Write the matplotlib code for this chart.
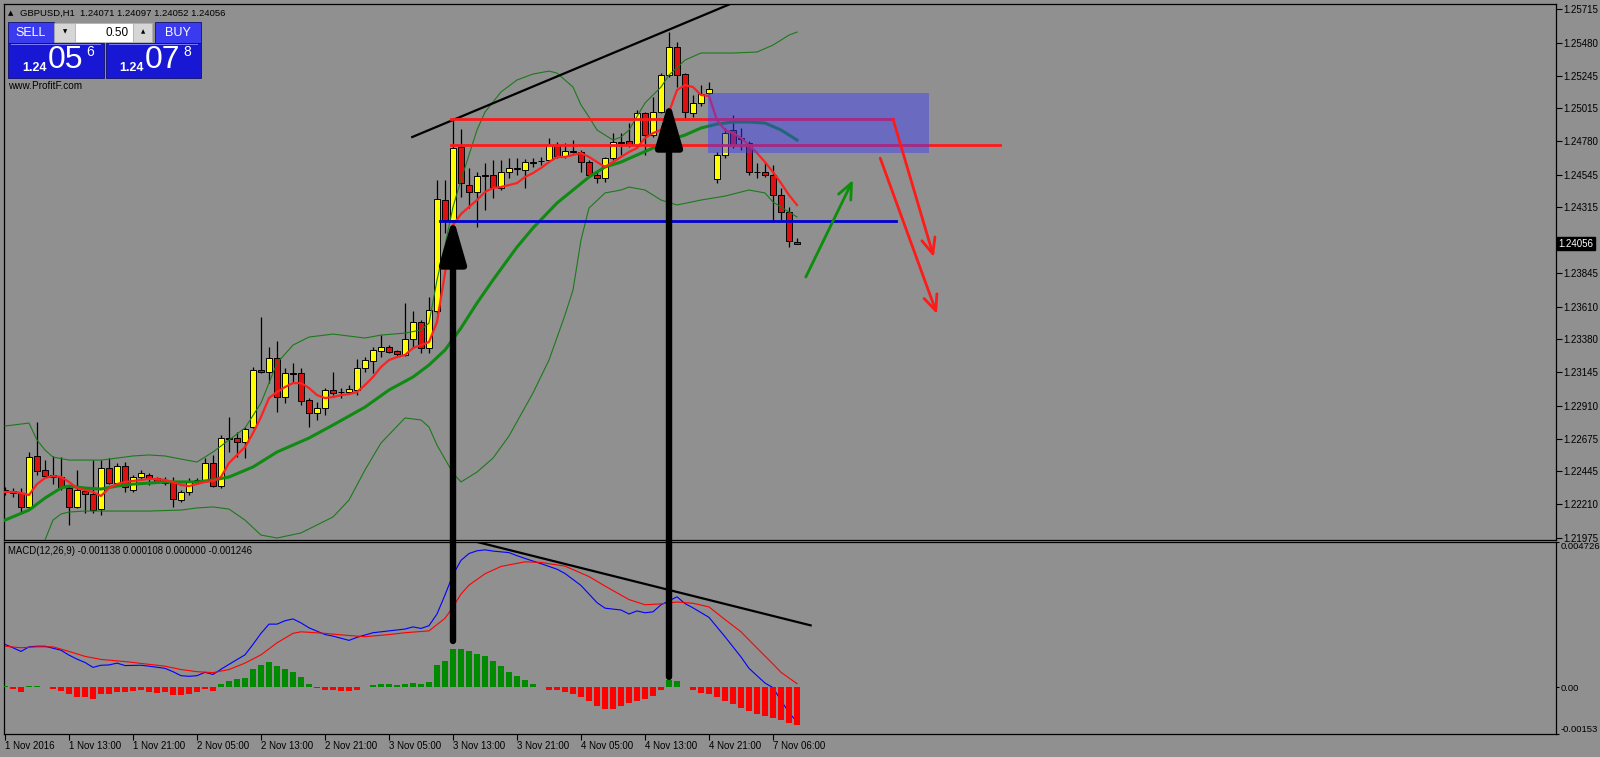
import numpy as np
import matplotlib.pyplot as plt
from matplotlib.patches import Rectangle, ConnectionPatch

plt.rcParams['font.family'] = ['Liberation Sans', 'DejaVu Sans']

W, H = 1600, 757
BG = '#909090'

# ---- свечи GBPUSD H1 (бар 0 = 1 Nov 05:00)
opens = [1.22312, 1.22305, 1.22291, 1.22192, 1.22553, 1.22454, 1.22418, 1.22404, 1.22326, 1.22192,
         1.22305, 1.22284, 1.22177, 1.22468, 1.22361, 1.22482, 1.22312, 1.22404, 1.22418, 1.22397,
         1.22361, 1.22369, 1.22241, 1.22298, 1.22383, 1.22383, 1.22503, 1.22340, 1.22683, 1.22680,
         1.22652, 1.22758, 1.23161, 1.23147, 1.23246, 1.22970, 1.23140, 1.23140, 1.22949, 1.22857,
         1.22892, 1.23020, 1.23006, 1.23006, 1.23020, 1.23176, 1.23225, 1.23296, 1.23324, 1.23296,
         1.23268, 1.23381, 1.23501, 1.23317, 1.23579, 1.24365, 1.24223, 1.24740, 1.24471, 1.24422,
         1.24542, 1.24542, 1.24450, 1.24563, 1.24592, 1.24577, 1.24634, 1.24641, 1.24648, 1.24754,
         1.24677, 1.24712, 1.24705, 1.24634, 1.24542, 1.24521, 1.24662, 1.24776, 1.24783, 1.24754,
         1.24981, 1.24825, 1.24988, 1.25250, 1.25448, 1.25257, 1.24981, 1.25052, 1.25123, 1.24514,
         1.24684, 1.24861, 1.24804, 1.24769, 1.24563, 1.24563, 1.24542, 1.24400, 1.24280, 1.24071]
highs = [1.22333, 1.22326, 1.22326, 1.22581, 1.22793, 1.22524, 1.22553, 1.22545, 1.22347, 1.22454,
         1.22326, 1.22524, 1.22524, 1.22538, 1.22503, 1.22510, 1.22418, 1.22454, 1.22432, 1.22404,
         1.22404, 1.22404, 1.22312, 1.22397, 1.22397, 1.22538, 1.22560, 1.22701, 1.22829, 1.22722,
         1.22758, 1.23183, 1.23537, 1.23324, 1.23367, 1.23176, 1.23211, 1.23176, 1.22963, 1.22935,
         1.23034, 1.23147, 1.23034, 1.23055, 1.23239, 1.23253, 1.23324, 1.23409, 1.23338, 1.23303,
         1.23636, 1.23579, 1.23515, 1.23678, 1.24507, 1.24507, 1.24946, 1.24868, 1.24592, 1.24563,
         1.24627, 1.24648, 1.24648, 1.24662, 1.24662, 1.24655, 1.24662, 1.24670, 1.24804, 1.24776,
         1.24769, 1.24790, 1.24719, 1.24648, 1.24563, 1.24670, 1.24839, 1.24839, 1.24910, 1.25002,
         1.24988, 1.25094, 1.25264, 1.25554, 1.25484, 1.25264, 1.25109, 1.25179, 1.25200, 1.24705,
         1.24875, 1.24967, 1.24875, 1.24783, 1.24627, 1.24634, 1.24613, 1.24450, 1.24316, 1.24097]
lows = [1.22277, 1.22263, 1.22156, 1.22185, 1.22418, 1.22397, 1.22354, 1.22312, 1.22064, 1.22185,
        1.22149, 1.22149, 1.22135, 1.22354, 1.22354, 1.22298, 1.22298, 1.22383, 1.22347, 1.22361,
        1.22347, 1.22192, 1.22227, 1.22277, 1.22369, 1.22369, 1.22333, 1.22326, 1.22581, 1.22545,
        1.22538, 1.22751, 1.23140, 1.23069, 1.22864, 1.22928, 1.23069, 1.22914, 1.22758, 1.22807,
        1.22843, 1.22984, 1.22963, 1.22999, 1.22984, 1.23147, 1.23140, 1.23253, 1.23282, 1.23261,
        1.23261, 1.23317, 1.23282, 1.23282, 1.23565, 1.24131, 1.24188, 1.24386, 1.24308, 1.24174,
        1.24294, 1.24379, 1.24436, 1.24521, 1.24542, 1.24450, 1.24599, 1.24613, 1.24634, 1.24662,
        1.24662, 1.24698, 1.24563, 1.24528, 1.24485, 1.24492, 1.24648, 1.24684, 1.24740, 1.24740,
        1.24684, 1.24811, 1.24981, 1.25236, 1.25165, 1.24931, 1.24953, 1.25031, 1.25116, 1.24485,
        1.24662, 1.24733, 1.24719, 1.24542, 1.24521, 1.24528, 1.24209, 1.24223, 1.24032, 1.24052]
closes = [1.22298, 1.22291, 1.22192, 1.22545, 1.22446, 1.22411, 1.22404, 1.22333, 1.22192, 1.22312,
          1.22284, 1.22170, 1.22468, 1.22361, 1.22482, 1.22333, 1.22404, 1.22432, 1.22397, 1.22369,
          1.22383, 1.22248, 1.22298, 1.22376, 1.22380, 1.22503, 1.22340, 1.22680, 1.22676, 1.22652,
          1.22744, 1.23161, 1.23147, 1.23246, 1.22970, 1.23140, 1.23133, 1.22942, 1.22857, 1.22892,
          1.23020, 1.22999, 1.23004, 1.23027, 1.23176, 1.23232, 1.23303, 1.23324, 1.23289, 1.23275,
          1.23381, 1.23501, 1.23317, 1.23586, 1.24372, 1.24223, 1.24733, 1.24485, 1.24422, 1.24535,
          1.24538, 1.24457, 1.24563, 1.24592, 1.24585, 1.24634, 1.24630, 1.24638, 1.24754, 1.24677,
          1.24712, 1.24708, 1.24634, 1.24542, 1.24521, 1.24662, 1.24776, 1.24772, 1.24754, 1.24981,
          1.24825, 1.24988, 1.25250, 1.25448, 1.25250, 1.24988, 1.25052, 1.25116, 1.25151, 1.24684,
          1.24839, 1.24754, 1.24797, 1.24563, 1.24560, 1.24542, 1.24400, 1.24280, 1.24075, 1.24056]

# ---- индикаторы
red_ma = [1.22298, 1.22298, 1.22291, 1.22277, 1.22354, 1.22397, 1.22411, 1.22404, 1.22369, 1.22326,
          1.22312, 1.22298, 1.22270, 1.22326, 1.22354, 1.22369, 1.22376, 1.22383, 1.22390, 1.22390,
          1.22383, 1.22369, 1.22347, 1.22340, 1.22354, 1.22369, 1.22376, 1.22404, 1.22503, 1.22560,
          1.22616, 1.22715, 1.22829, 1.22963, 1.23006, 1.23041, 1.23069, 1.23069, 1.23034, 1.22984,
          1.22963, 1.22970, 1.22984, 1.22991, 1.23006, 1.23055, 1.23112, 1.23183, 1.23232, 1.23253,
          1.23268, 1.23317, 1.23338, 1.23360, 1.23501, 1.23848, 1.24188, 1.24266, 1.24316, 1.24365,
          1.24422, 1.24450, 1.24457, 1.24471, 1.24485, 1.24528, 1.24556, 1.24592, 1.24634, 1.24670,
          1.24670, 1.24684, 1.24698, 1.24670, 1.24634, 1.24599, 1.24634, 1.24670, 1.24705, 1.24733,
          1.24804, 1.24839, 1.24861, 1.24988, 1.25144, 1.25179, 1.25165, 1.25109, 1.25101, 1.24931,
          1.24861, 1.24839, 1.24804, 1.24754, 1.24698, 1.24634, 1.24563, 1.24485, 1.24400, 1.24330]

green_bars = [0, 3, 5, 7, 8, 10, 12, 14, 16, 18, 20, 22, 24, 26, 28, 31, 34, 38, 41, 45, 48, 51, 53,
              55, 57, 59, 61, 64, 66, 69, 71, 73, 75, 77, 79, 81, 83, 85, 87, 89, 91, 93, 95, 97, 99]
green_ma = [1.22099, 1.22170, 1.22255, 1.22326, 1.22340, 1.22326, 1.22319, 1.22340, 1.22354, 1.22361,
            1.22369, 1.22369, 1.22369, 1.22383, 1.22404, 1.22475, 1.22581, 1.22680, 1.22772, 1.22899,
            1.23020, 1.23112, 1.23197, 1.23303, 1.23459, 1.23636, 1.23799, 1.24032, 1.24167, 1.24344,
            1.24436, 1.24528, 1.24599, 1.24634, 1.24684, 1.24733, 1.24790, 1.24825, 1.24875, 1.24903,
            1.24917, 1.24917, 1.24910, 1.24861, 1.24790]

bb_up_bars = [0, 2, 3, 4, 5, 6, 8, 12, 14, 16, 18, 20, 22, 24, 26, 28, 30, 32, 34, 36, 38, 41, 45, 47,
              50, 52, 53, 54, 55, 56, 57, 58, 59, 60, 62, 64, 66, 68, 69, 71, 72, 73, 74, 76, 77, 78,
              80, 82, 83, 85, 87, 91, 94, 96, 98, 99]
bb_up = [1.22765, 1.22779, 1.22786, 1.22666, 1.22595, 1.22545, 1.22524, 1.22524, 1.22538, 1.22553,
         1.22560, 1.22553, 1.22531, 1.22510, 1.22581, 1.22666, 1.22751, 1.22928, 1.23211, 1.23338,
         1.23395, 1.23416, 1.23388, 1.23409, 1.23423, 1.23445, 1.23494, 1.23799, 1.24046, 1.24316,
         1.24507, 1.24684, 1.24861, 1.24988, 1.25130, 1.25215, 1.25257, 1.25278, 1.25264, 1.25165,
         1.25038, 1.24953, 1.24861, 1.24790, 1.24811, 1.24861, 1.25052, 1.25165, 1.25250, 1.25356,
         1.25406, 1.25406, 1.25413, 1.25462, 1.25533, 1.25554]

bb_lo_bars = [4, 5, 6, 7, 8, 10, 14, 18, 22, 24, 26, 28, 30, 32, 34, 37, 41, 43, 45, 47, 50, 52, 53,
              54, 56, 57, 59, 61, 63, 66, 68, 70, 71, 72, 73, 75, 77, 78, 80, 82, 84, 87, 90, 93, 95,
              96, 98, 99]
bb_lo = [1.21816, 1.21958, 1.22099, 1.22142, 1.22156, 1.22163, 1.22163, 1.22163, 1.22170, 1.22185,
         1.22192, 1.22177, 1.22099, 1.21993, 1.21972, 1.22008, 1.22121, 1.22241, 1.22454, 1.22645,
         1.22822, 1.22808, 1.22758, 1.22630, 1.22432, 1.22369, 1.22439, 1.22538, 1.22694, 1.22999,
         1.23232, 1.23551, 1.23728, 1.24082, 1.24308, 1.24415, 1.24436, 1.24457, 1.24436, 1.24365,
         1.24330, 1.24365, 1.24393, 1.24436, 1.24415, 1.24351, 1.24280, 1.24245]

# ---- MACD(12,26,9)
macd_bars = [0, 1, 2, 3, 4, 5, 7, 8, 9, 10, 11, 12, 13, 14, 15, 17, 18, 20, 21, 22, 23, 24, 25, 26,
             27, 28, 30, 31, 32, 33, 34, 35, 36, 37, 38, 40, 41, 43, 44, 46, 48, 50, 51, 52, 53, 54,
             55, 56, 57, 58, 59, 60, 61, 63, 64, 65, 67, 69, 70, 72, 74, 75, 77, 78, 79, 80, 81, 82,
             84, 85, 86, 88, 90, 92, 93, 95, 96, 97, 98, 99]
macd_main = [0.00139, 0.00128, 0.00116, 0.00131, 0.00133, 0.00133, 0.00120, 0.00104, 0.00091, 0.00080,
             0.00064, 0.00071, 0.00072, 0.00078, 0.00070, 0.00071, 0.00068, 0.00061, 0.00050, 0.00037,
             0.00035, 0.00037, 0.00048, 0.00041, 0.00058, 0.00074, 0.00105, 0.00139, 0.00175, 0.00205,
             0.00205, 0.00216, 0.00222, 0.00209, 0.00193, 0.00171, 0.00166, 0.00152, 0.00162, 0.00177,
             0.00183, 0.00189, 0.00196, 0.00191, 0.00200, 0.00238, 0.00300, 0.00366, 0.00413, 0.00435,
             0.00444, 0.00447, 0.00443, 0.00438, 0.00428, 0.00419, 0.00402, 0.00384, 0.00370, 0.00331,
             0.00275, 0.00257, 0.00251, 0.00238, 0.00248, 0.00242, 0.00245, 0.00268, 0.00294, 0.00272,
             0.00258, 0.00227, 0.00164, 0.00098, 0.00061, 0.00013, -0.00002, -0.00044, -0.00083, -0.001138]
sig_bars = [0, 2, 4, 6, 8, 10, 12, 15, 18, 20, 22, 24, 26, 28, 30, 32, 34, 36, 37, 40, 42, 45, 48, 50,
            53, 55, 56, 57, 58, 60, 62, 65, 67, 70, 73, 75, 78, 80, 82, 84, 86, 88, 90, 92, 94, 96, 97, 99]
macd_signal = [0.00133, 0.00128, 0.00131, 0.00131, 0.00116, 0.00100, 0.00090, 0.00083, 0.00074, 0.00068,
               0.00057, 0.00050, 0.00047, 0.00057, 0.00078, 0.00105, 0.00144, 0.00175, 0.00180, 0.00175,
               0.00170, 0.00164, 0.00171, 0.00177, 0.00183, 0.00224, 0.00261, 0.00303, 0.00332, 0.00369,
               0.00393, 0.00408, 0.00406, 0.00394, 0.00360, 0.00329, 0.00285, 0.00268, 0.00271, 0.00277,
               0.00273, 0.00261, 0.00220, 0.00180, 0.00127, 0.00075, 0.00048, 0.00011]
macd_hist = [0.00002, -0.00006, -0.00017, 0.00002, 0.00002, 0.0, -0.00006, -0.00013, -0.00022, -0.00031,
             -0.00033, -0.00039, -0.00024, -0.00022, -0.00017, -0.00017, -0.00013, -0.00011, -0.00017, -0.00020,
             -0.00017, -0.00026, -0.00026, -0.00022, -0.00017, -0.00008, -0.00013, 0.00009, 0.00020, 0.00026,
             0.00030, 0.00058, 0.00072, 0.00081, 0.00070, 0.00059, 0.00050, 0.00033, 0.00009, -0.00004,
             -0.00009, -0.00011, -0.00014, -0.00014, -0.00009, 0.0, 0.00006, 0.00011, 0.00009, 0.00007,
             0.00009, 0.00014, 0.00009, 0.00016, 0.00072, 0.00085, 0.00124, 0.00124, 0.00116, 0.00108,
             0.00100, 0.00085, 0.00067, 0.00048, 0.00037, 0.00022, 0.00011, 0.0, -0.00009, -0.00011,
             -0.00017, -0.00024, -0.00033, -0.00044, -0.00061, -0.00070, -0.00070, -0.00061, -0.00053, -0.00044,
             -0.00039, -0.00030, -0.00011, 0.00022, 0.00019, 0.0, -0.00011, -0.00019, -0.00022, -0.00033,
             -0.00044, -0.00055, -0.00067, -0.00078, -0.00089, -0.00094, -0.00100, -0.00109, -0.00116, -0.001246]

# ---- подписи осей
price_ticks = [1.25715, 1.25480, 1.25245, 1.25015, 1.24780, 1.24545, 1.24315, 1.23845, 1.23610,
               1.23380, 1.23145, 1.22910, 1.22675, 1.22445, 1.22210, 1.21975]
last_price = 1.24056
macd_ticks = [0.004726, 0.0, -0.00153]
macd_tick_labels = ['0.004726', '0.00', '-0.00153']
time_ticks = [0, 8, 16, 24, 32, 40, 48, 56, 64, 72, 80, 88, 96]
time_labels = ['1 Nov 2016', '1 Nov 13:00', '1 Nov 21:00', '2 Nov 05:00', '2 Nov 13:00',
               '2 Nov 21:00', '3 Nov 05:00', '3 Nov 13:00', '3 Nov 21:00', '4 Nov 05:00',
               '4 Nov 13:00', '4 Nov 21:00', '7 Nov 06:00']

# ---- нарисованные трейдером объекты (бар, цена)
trend_top = ([50.9, 91.25], [1.24811, 1.25767])
red_level_hi = ([55.75, 111.0], [1.24938, 1.24938])
red_level_lo = ([55.75, 124.4], [1.24754, 1.24754])
blue_level = ([54.4, 111.4], [1.24216, 1.24216])
zone = (87.9, 115.5, 1.24698, 1.25123)
red_arrow_a = ((111.0, 1.24938), (116.1, 1.23961))
red_arrow_b = ((109.4, 1.24662), (116.5, 1.23558))
green_arrow = ((100.1, 1.23820), (106.0, 1.24507))
macd_trend = ([58.2, 100.7], [0.00478, 0.00201])
big_arrows = [(56.0, 0.00150, 1.24245), (83.0, 0.00033, 1.25073)]  # бар, MACD внизу, цена острия

fig = plt.figure(figsize=(W / 100, H / 100), dpi=100)
fig.set_facecolor(BG)

ax1 = fig.add_axes([4 / W, 1 - 540 / H, 1552 / W, 536 / H])
ax2 = fig.add_axes([4 / W, 1 - 734 / H, 1552 / W, 192 / H], sharex=ax1)
for ax in (ax1, ax2):
    ax.set_facecolor(BG)
    for s in ax.spines.values():
        s.set_color('black')
        s.set_linewidth(0.9)
    ax.yaxis.tick_right()
    ax.tick_params(axis='y', direction='out', length=4, width=0.8, pad=1.5, labelsize=7, colors='black')

x = np.arange(len(opens))
ax1.set_xlim(-0.125, 193.875)
ax1.set_ylim(1.21958, 1.25753)

# свечи
o = np.array(opens)
c = np.array(closes)
body_col = np.where(c >= o, '#ffff00', '#dd1111')
ax1.vlines(x, lows, highs, color='black', lw=0.9, zorder=2)
ax1.bar(x, c - o, bottom=o, width=0.64, color=body_col, edgecolor='black', linewidth=0.7, zorder=2.5)

# индикаторы
ax1.plot(bb_up_bars, bb_up, color='#1b7a1b', lw=0.8, zorder=3)
ax1.plot(bb_lo_bars, bb_lo, color='#1b7a1b', lw=0.8, zorder=3)
ax1.plot(green_bars, green_ma, color='#0f8a12', lw=2.2, zorder=3.5)
ax1.plot(x, red_ma, color='#ff2020', lw=1.6, zorder=3.6)

# объекты
ax1.plot(*trend_top, color='black', lw=1.6, zorder=5)
ax1.plot(*red_level_hi, color='#ff1a1a', lw=2, zorder=5)
ax1.plot(*red_level_lo, color='#ff1a1a', lw=2, zorder=5)
ax1.plot(*blue_level, color='#0000d0', lw=2, zorder=5)
ax1.add_patch(Rectangle((zone[0], zone[2]), zone[1] - zone[0], zone[3] - zone[2],
                        facecolor='#3c3cff', alpha=0.45, edgecolor='none', zorder=6))
for (start, tip), col in [(red_arrow_a, '#ff1a1a'), (red_arrow_b, '#ff1a1a'), (green_arrow, '#0b8f0b')]:
    ax1.annotate('', xy=tip, xytext=start,
                 arrowprops=dict(arrowstyle='->,head_length=0.8,head_width=0.35', color=col, lw=2,
                                 shrinkA=0, shrinkB=0, mutation_scale=14), zorder=7)

ax1.set_yticks(price_ticks)
ax1.set_yticklabels(['%.5f' % p for p in price_ticks])
ax1.tick_params(axis='x', bottom=False, labelbottom=False)
ax1.text(1.0015, last_price, '%.5f' % last_price, transform=ax1.get_yaxis_transform(),
         ha='left', va='center', fontsize=7, color='white',
         bbox=dict(boxstyle='square,pad=0.18', fc='black', ec='black'))

# MACD
ax2.set_ylim(-0.00153, 0.004726)
ax2.plot(macd_bars, macd_main, color='#0000ff', lw=0.8, zorder=2)
ax2.plot(sig_bars, macd_signal, color='#ff0000', lw=0.8, zorder=2)
hist = np.array(macd_hist)
ax2.bar(x, hist, width=0.8, color=np.where(hist >= 0, '#008a00', '#ff0000'), zorder=3)
ax2.plot(*macd_trend, color='black', lw=1.6, zorder=5)
ax2.set_yticks(macd_ticks)
ax2.set_yticklabels(macd_tick_labels)
ax2.tick_params(axis='y', length=2.5, pad=1, labelsize=6.8)
ylabs = ax2.get_yticklabels()
ylabs[0].set_va('top')
ylabs[-1].set_va('bottom')
ax2.set_xticks(time_ticks)
ax2.set_xticklabels(time_labels, ha='left')
ax2.tick_params(axis='x', direction='out', length=4, width=0.8, pad=1, labelsize=7, colors='black')
ax2.text(0.0025, 0.955, 'MACD(12,26,9) -0.001138 0.000108 0.000000 -0.001246',
         transform=ax2.transAxes, fontsize=6.9, va='center', ha='left')

# большие чёрные стрелки от MACD к цене
for bx, mv, pv in big_arrows:
    con = ConnectionPatch(xyA=(bx, mv), coordsA=ax2.transData, xyB=(bx, pv), coordsB=ax1.transData,
                          arrowstyle='-|>,head_length=0.38,head_width=0.11', mutation_scale=72,
                          color='black', lw=4.6, zorder=8)
    fig.add_artist(con)


# ---- панель торговли в один клик (в пикселях)
def px_rect(x0, y0, x1, y1, **kw):
    fig.add_artist(Rectangle((x0 / W, 1 - y1 / H), (x1 - x0) / W, (y1 - y0) / H,
                             transform=fig.transFigure, zorder=9, **kw))


def px_text(xp, yp, s, **kw):
    fig.text(xp / W, 1 - yp / H, s, zorder=10, **kw)


px_text(8, 13, '\u25b2', fontsize=5, va='center', family=['DejaVu Sans'])
px_text(20, 13, 'GBPUSD,H1  1.24071 1.24097 1.24052 1.24056', fontsize=6.8, va='center')

px_rect(8, 22, 54, 43, facecolor='#3a3aee', edgecolor='#101070', lw=0.6)
px_rect(155, 22, 201, 43, facecolor='#3a3aee', edgecolor='#101070', lw=0.6)
px_rect(54, 23, 75, 42, facecolor='#d6d6d6', edgecolor='#b0b0b0', lw=0.5)
px_rect(75, 23, 133, 42, facecolor='white', edgecolor='#b0b0b0', lw=0.5)
px_rect(133, 23, 152, 42, facecolor='#d6d6d6', edgecolor='#b0b0b0', lw=0.5)
px_rect(8, 43, 104, 78, facecolor='#1818d4', edgecolor='#101070', lw=0.6)
px_rect(106, 43, 201, 78, facecolor='#1818d4', edgecolor='#101070', lw=0.6)
px_rect(11, 44, 101, 45, facecolor='#7a7aff', edgecolor='none')
px_rect(109, 44, 198, 45, facecolor='#7a7aff', edgecolor='none')

px_text(31, 32.5, 'SELL', fontsize=9, color='white', ha='center', va='center')
px_text(178, 32.5, 'BUY', fontsize=9, color='white', ha='center', va='center')
px_text(65, 32, '\u25bc', fontsize=4, ha='center', va='center', family=['DejaVu Sans'])
px_text(143, 32, '\u25b2', fontsize=4, ha='center', va='center', family=['DejaVu Sans'])
px_text(129, 32.5, '0.50', fontsize=8.5, ha='right', va='center')
px_text(22, 68, '1.24', fontsize=9, color='white', weight='bold', va='center')
px_text(48, 60, '05', fontsize=23, color='white', va='center')
px_text(86, 52, '6', fontsize=10, color='white', va='center')
px_text(119, 68, '1.24', fontsize=9, color='white', weight='bold', va='center')
px_text(145, 60, '07', fontsize=23, color='white', va='center')
px_text(183, 52, '8', fontsize=10, color='white', va='center')
px_text(8, 86, 'www.ProfitF.com', fontsize=7.2, va='center')

fig.savefig('out.png', dpi=100, facecolor=BG)
